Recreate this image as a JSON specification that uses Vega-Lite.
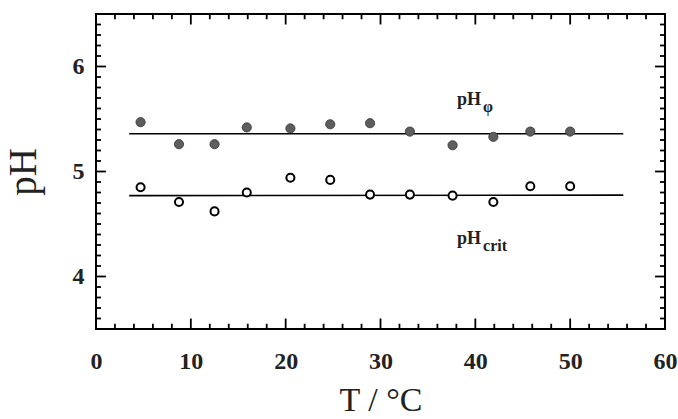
{
  "$schema": "https://vega.github.io/schema/vega-lite/v6.json",
  "width": 569,
  "height": 315,
  "autosize": "none",
  "padding": {"left": 96, "top": 14, "right": 13, "bottom": 90},
  "background": "white",
  "config": {
    "view": {"stroke": "black", "strokeWidth": 2},
    "axis": {"grid": false, "domain": false, "ticks": false, "labelColor": "#222", "titleColor": "#222"}
  },
  "datasets": {
    "pts": [
      {"T": 4.7, "pH": 5.47, "series": "phi"},
      {"T": 8.75, "pH": 5.26, "series": "phi"},
      {"T": 12.5, "pH": 5.26, "series": "phi"},
      {"T": 15.9, "pH": 5.42, "series": "phi"},
      {"T": 20.5, "pH": 5.41, "series": "phi"},
      {"T": 24.7, "pH": 5.45, "series": "phi"},
      {"T": 28.9, "pH": 5.46, "series": "phi"},
      {"T": 33.1, "pH": 5.38, "series": "phi"},
      {"T": 37.6, "pH": 5.25, "series": "phi"},
      {"T": 41.9, "pH": 5.33, "series": "phi"},
      {"T": 45.8, "pH": 5.38, "series": "phi"},
      {"T": 50.0, "pH": 5.38, "series": "phi"},
      {"T": 4.7, "pH": 4.85, "series": "crit"},
      {"T": 8.75, "pH": 4.71, "series": "crit"},
      {"T": 12.5, "pH": 4.62, "series": "crit"},
      {"T": 15.9, "pH": 4.80, "series": "crit"},
      {"T": 20.5, "pH": 4.94, "series": "crit"},
      {"T": 24.7, "pH": 4.92, "series": "crit"},
      {"T": 28.9, "pH": 4.78, "series": "crit"},
      {"T": 33.1, "pH": 4.78, "series": "crit"},
      {"T": 37.6, "pH": 4.77, "series": "crit"},
      {"T": 41.9, "pH": 4.71, "series": "crit"},
      {"T": 45.8, "pH": 4.86, "series": "crit"},
      {"T": 50.0, "pH": 4.86, "series": "crit"}
    ],
    "fits": [
      {"T": 3.5, "pH": 5.36, "series": "phi"},
      {"T": 55.6, "pH": 5.36, "series": "phi"},
      {"T": 3.5, "pH": 4.77, "series": "crit"},
      {"T": 55.6, "pH": 4.775, "series": "crit"}
    ],
    "labels": [
      {"T": 38.07, "pH": 5.633, "main": "pH", "sub": "φ"},
      {"T": 38.07, "pH": 4.31, "main": "pH", "sub": "crit"}
    ],
    "xmaj": [{"T": 10}, {"T": 20}, {"T": 30}, {"T": 40}, {"T": 50}],
    "xmin": [
      {"T": 2}, {"T": 4}, {"T": 6}, {"T": 8}, {"T": 12}, {"T": 14}, {"T": 16}, {"T": 18},
      {"T": 22}, {"T": 24}, {"T": 26}, {"T": 28}, {"T": 32}, {"T": 34}, {"T": 36}, {"T": 38},
      {"T": 42}, {"T": 44}, {"T": 46}, {"T": 48}, {"T": 52}, {"T": 54}, {"T": 56}, {"T": 58}
    ],
    "ymaj": [{"pH": 4}, {"pH": 5}, {"pH": 6}],
    "ymin": [
      {"pH": 3.6}, {"pH": 3.7}, {"pH": 3.8}, {"pH": 3.9}, {"pH": 4.1}, {"pH": 4.2}, {"pH": 4.3}, {"pH": 4.4},
      {"pH": 4.5}, {"pH": 4.6}, {"pH": 4.7}, {"pH": 4.8}, {"pH": 4.9}, {"pH": 5.1}, {"pH": 5.2}, {"pH": 5.3},
      {"pH": 5.4}, {"pH": 5.5}, {"pH": 5.6}, {"pH": 5.7}, {"pH": 5.8}, {"pH": 5.9}, {"pH": 6.1}, {"pH": 6.2},
      {"pH": 6.3}, {"pH": 6.4}
    ]
  },
  "layer": [
    {
      "data": {"name": "fits"},
      "mark": {"type": "line", "color": "black", "strokeWidth": 1.6},
      "encoding": {
        "x": {"field": "T", "type": "quantitative", "scale": {"domain": [0, 60], "nice": false, "zero": false},
          "axis": {
            "orient": "bottom",
            "values": [0, 10, 20, 30, 40, 50, 60],
            "labelFont": "Liberation Serif", "labelFontWeight": "bold", "labelFontSize": 24,
            "labelPadding": 20, "labelFlush": false, "labelOverlap": false,
            "title": "T / °C", "titleFont": "Liberation Serif", "titleFontSize": 34, "titleFontWeight": "normal", "titlePadding": 10
          }},
        "y": {"field": "pH", "type": "quantitative", "scale": {"domain": [3.5, 6.5], "nice": false, "zero": false},
          "axis": {
            "orient": "left",
            "values": [4, 5, 6],
            "format": ".0f",
            "labelFont": "Liberation Serif", "labelFontWeight": "bold", "labelFontSize": 24,
            "labelPadding": 12, "labelOverlap": false, "labelFlush": false,
            "title": "pH", "titleFont": "Liberation Serif", "titleFontSize": 39, "titleFontWeight": "normal", "titlePadding": 29
          }},
        "detail": {"field": "series"}
      }
    },
    {
      "data": {"name": "xmaj"},
      "mark": {"type": "rule", "color": "black", "strokeWidth": 1.8},
      "encoding": {"x": {"field": "T", "type": "quantitative"}, "y": {"datum": 3.5, "type": "quantitative"}, "y2": {"datum": 3.6}}
    },
    {
      "data": {"name": "xmin"},
      "mark": {"type": "rule", "color": "black", "strokeWidth": 1.8},
      "encoding": {"x": {"field": "T", "type": "quantitative"}, "y": {"datum": 3.5, "type": "quantitative"}, "y2": {"datum": 3.55}}
    },
    {
      "data": {"name": "xmaj"},
      "mark": {"type": "rule", "color": "black", "strokeWidth": 1.8},
      "encoding": {"x": {"field": "T", "type": "quantitative"}, "y": {"datum": 6.5, "type": "quantitative"}, "y2": {"datum": 6.4}}
    },
    {
      "data": {"name": "xmin"},
      "mark": {"type": "rule", "color": "black", "strokeWidth": 1.8},
      "encoding": {"x": {"field": "T", "type": "quantitative"}, "y": {"datum": 6.5, "type": "quantitative"}, "y2": {"datum": 6.45}}
    },
    {
      "data": {"name": "ymaj"},
      "mark": {"type": "rule", "color": "black", "strokeWidth": 1.8},
      "encoding": {"y": {"field": "pH", "type": "quantitative"}, "x": {"datum": 0, "type": "quantitative"}, "x2": {"datum": 1.05}}
    },
    {
      "data": {"name": "ymin"},
      "mark": {"type": "rule", "color": "black", "strokeWidth": 1.8},
      "encoding": {"y": {"field": "pH", "type": "quantitative"}, "x": {"datum": 0, "type": "quantitative"}, "x2": {"datum": 0.53}}
    },
    {
      "data": {"name": "ymaj"},
      "mark": {"type": "rule", "color": "black", "strokeWidth": 1.8},
      "encoding": {"y": {"field": "pH", "type": "quantitative"}, "x": {"datum": 60, "type": "quantitative"}, "x2": {"datum": 58.95}}
    },
    {
      "data": {"name": "ymin"},
      "mark": {"type": "rule", "color": "black", "strokeWidth": 1.8},
      "encoding": {"y": {"field": "pH", "type": "quantitative"}, "x": {"datum": 60, "type": "quantitative"}, "x2": {"datum": 59.47}}
    },
    {
      "data": {"name": "pts"},
      "transform": [{"filter": "datum.series === 'phi'"}],
      "mark": {"type": "point", "shape": "circle", "filled": true, "fill": "#5e5e5e", "stroke": "#333", "strokeWidth": 0.8, "opacity": 1, "size": 85},
      "encoding": {
        "x": {"field": "T", "type": "quantitative"},
        "y": {"field": "pH", "type": "quantitative"}
      }
    },
    {
      "data": {"name": "pts"},
      "transform": [{"filter": "datum.series === 'crit'"}],
      "mark": {"type": "point", "shape": "circle", "filled": true, "fill": "white", "stroke": "black", "strokeWidth": 2, "opacity": 1, "size": 65},
      "encoding": {
        "x": {"field": "T", "type": "quantitative"},
        "y": {"field": "pH", "type": "quantitative"}
      }
    },
    {
      "data": {"name": "labels"},
      "mark": {"type": "text", "align": "left", "baseline": "alphabetic", "font": "Liberation Serif", "fontWeight": "bold", "fontSize": 18, "color": "#222"},
      "encoding": {
        "x": {"field": "T", "type": "quantitative"},
        "y": {"field": "pH", "type": "quantitative"},
        "text": {"field": "main"}
      }
    },
    {
      "data": {"name": "labels"},
      "mark": {"type": "text", "align": "left", "baseline": "alphabetic", "font": "Liberation Serif", "fontWeight": "bold", "fontSize": 16, "color": "#222", "dx": 26, "dy": 7},
      "encoding": {
        "x": {"field": "T", "type": "quantitative"},
        "y": {"field": "pH", "type": "quantitative"},
        "text": {"field": "sub"}
      }
    }
  ]
}
